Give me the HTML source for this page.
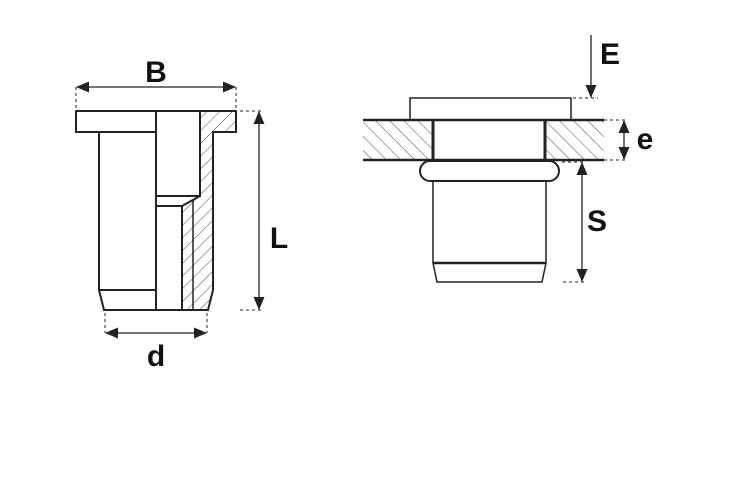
<!DOCTYPE html>
<html><head><style>body{margin:0;background:#fff}svg{display:block}</style></head><body>
<svg width="745" height="478" viewBox="0 0 745 478" xmlns="http://www.w3.org/2000/svg">
<defs>
<pattern id="h1" patternUnits="userSpaceOnUse" width="9" height="9" patternTransform="rotate(45)"><line x1="0" y1="0" x2="0" y2="9" stroke="#222" stroke-width="0.8"/></pattern>
<pattern id="h2" patternUnits="userSpaceOnUse" width="10" height="10" patternTransform="rotate(-45)"><line x1="0" y1="0" x2="0" y2="10" stroke="#222" stroke-width="0.8"/></pattern>
<marker id="a" markerWidth="13" markerHeight="11" refX="12" refY="5.5" orient="auto-start-reverse" markerUnits="userSpaceOnUse"><path d="M0,0 L13,5.5 L0,11 z" fill="#222"/></marker>
</defs>
<g fill="none" stroke="#222" stroke-width="2">
<path d="M201,111 L236,111 L236,132 L213,132 L213,290 L208,310 L182,310 L182,206 L200,196 Z" fill="url(#h1)" stroke="none"/>
<path d="M76,111 L236,111 L236,132 L213,132 L213,290 L208,310 L104,310 L99,290 L99,132 L76,132 Z"/>
<line x1="99" y1="132" x2="156" y2="132"/>
<line x1="156" y1="111" x2="156" y2="310"/>
<line x1="99" y1="290" x2="156" y2="290"/>
<path d="M200,111 L200,196 L156,196"/>
<path d="M156,206 L182,206 L200,196"/>
<line x1="182" y1="206" x2="182" y2="310"/>
<line x1="193" y1="200" x2="193" y2="310" stroke-width="1.5"/>
<rect x="363" y="120" width="70" height="40" fill="url(#h2)" stroke="none"/>
<rect x="545" y="120" width="59" height="40" fill="url(#h2)" stroke="none"/>
<rect x="410" y="98" width="161" height="22" stroke-width="1.5"/>
<line x1="363" y1="120" x2="604" y2="120" stroke-width="2.5"/>
<line x1="363" y1="160" x2="604" y2="160" stroke-width="2.5"/>
<line x1="433" y1="120" x2="433" y2="160" stroke-width="3"/>
<line x1="545" y1="120" x2="545" y2="160" stroke-width="3"/>
<rect x="420" y="161" width="139" height="20" rx="10" fill="#fff"/>
<path d="M433,181 L433,263 L437,282 L542,282 L546,263 L546,181" stroke-width="1.5"/>
<line x1="433" y1="263" x2="546" y2="263" stroke-width="2.5"/>
</g>
<g stroke="#222" stroke-width="1.3" fill="none">
<line x1="77" y1="87" x2="235" y2="87" marker-start="url(#a)" marker-end="url(#a)"/>
<line x1="259" y1="112" x2="259" y2="309" marker-start="url(#a)" marker-end="url(#a)"/>
<line x1="106" y1="333" x2="206" y2="333" marker-start="url(#a)" marker-end="url(#a)"/>
<line x1="591" y1="35" x2="591" y2="97" marker-end="url(#a)"/>
<line x1="624" y1="121" x2="624" y2="159" marker-start="url(#a)" marker-end="url(#a)"/>
<line x1="582" y1="163" x2="582" y2="281" marker-start="url(#a)" marker-end="url(#a)"/>
</g>
<g stroke="#222" stroke-width="1" stroke-dasharray="3,3">
<line x1="76" y1="87" x2="76" y2="108"/><line x1="236" y1="87" x2="236" y2="108"/>
<line x1="240" y1="111" x2="262" y2="111"/><line x1="240" y1="310" x2="262" y2="310"/>
<line x1="105" y1="313" x2="105" y2="333"/><line x1="207" y1="313" x2="207" y2="333"/>
<line x1="573" y1="98" x2="598" y2="98"/>
<line x1="604" y1="120" x2="628" y2="120"/><line x1="604" y1="160" x2="628" y2="160"/>
<line x1="562" y1="162" x2="585" y2="162"/><line x1="563" y1="282" x2="585" y2="282"/>
</g>
<g font-family="Liberation Sans, sans-serif" font-weight="bold" font-size="30" fill="#111">
<text x="156" y="82" text-anchor="middle">B</text>
<text x="279" y="248" text-anchor="middle">L</text>
<text x="156" y="366" text-anchor="middle">d</text>
<text x="610" y="64" text-anchor="middle">E</text>
<text x="645" y="149" text-anchor="middle">e</text>
<text x="597" y="231" text-anchor="middle">S</text>
</g>
</svg>
</body></html>
